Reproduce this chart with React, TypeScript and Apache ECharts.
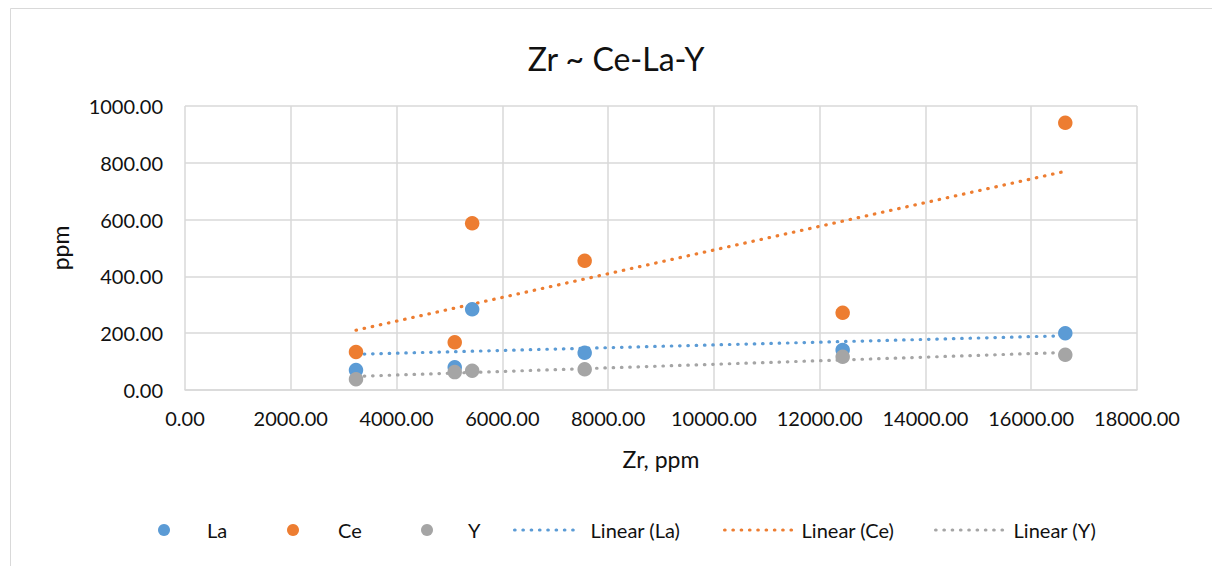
import React, { useEffect, useRef } from "react";
import * as echarts from "echarts";

const zr = [3233, 5100, 5430, 7557, 12435, 16644];
const laVals = [70, 80, 284, 131, 141, 200];
const ceVals = [134, 168, 587, 455, 272, 941];
const yVals = [38, 63, 68, 73, 117, 124];

const seriesNames = ["La", "Ce", "Y"];
const trendNames = ["Linear (La)", "Linear (Ce)", "Linear (Y)"];
const colors = ["#5B9BD5", "#ED7D31", "#A5A5A5"];

function linearFit(xs: number[], ys: number[]) {
  const n = xs.length;
  const mx = xs.reduce((a, b) => a + b, 0) / n;
  const my = ys.reduce((a, b) => a + b, 0) / n;
  let sxy = 0;
  let sxx = 0;
  for (let i = 0; i < n; i++) {
    sxy += (xs[i] - mx) * (ys[i] - my);
    sxx += (xs[i] - mx) * (xs[i] - mx);
  }
  const b = sxy / sxx;
  const a = my - b * mx;
  const x0 = Math.min(...xs);
  const x1 = Math.max(...xs);
  return [
    [x0, a + b * x0],
    [x1, a + b * x1],
  ];
}

const FONT = "Lato";
const TEXT = "#111111";
const GRID = "#d9d9d9";
const DOT: number[] = [0.5, 7.8];

export default function App() {
  const ref = useRef<HTMLDivElement>(null);
  useEffect(() => {
    if (!ref.current) return;
    const chart = echarts.init(ref.current, undefined, { renderer: "svg" });
    const all = [laVals, ceVals, yVals];
    const scatterSeries = all.map((vals, i) => ({
      name: seriesNames[i],
      type: "scatter",
      symbol: "circle",
      symbolSize: 14.5,
      itemStyle: { color: colors[i], opacity: 1 },
      data: zr.map((x, j) => [x, vals[j]]),
      z: 3,
    }));
    const trendSeries = all.map((vals, i) => ({
      name: trendNames[i],
      type: "line",
      symbol: "none",
      showSymbol: false,
      silent: true,
      lineStyle: { color: colors[i], width: 3.2, type: DOT, cap: "round" },
      itemStyle: { color: colors[i] },
      data: linearFit(zr, vals),
      z: 2,
    }));

    const legendDefs = [
      { name: "La", left: 158, w: 12, pad: 32, line: false },
      { name: "Ce", left: 287, w: 12, pad: 34, line: false },
      { name: "Y", left: 421, w: 12, pad: 30, line: false },
      { name: "Linear (La)", left: 513, w: 62, pad: 9, line: true },
      { name: "Linear (Ce)", left: 723, w: 68, pad: 4, line: true },
      { name: "Linear (Y)", left: 934, w: 71, pad: 2, line: true },
    ];
    const legends = legendDefs.map((d) => {
      const l: any = {
        data: [d.name],
        left: d.left,
        top: 520,
        itemWidth: d.w,
        itemHeight: 12,
        padding: 0,
        selectedMode: false,
        textStyle: {
          fontFamily: FONT,
          fontSize: 20,
          color: TEXT,
          padding: [0, 0, 0, d.pad],
        },
      };
      if (d.line) {
        l.lineStyle = { width: 3.2, type: DOT, cap: "round" };
        l.itemStyle = { opacity: 0 };
      } else {
        l.itemStyle = { opacity: 1 };
      }
      return l;
    });

    chart.setOption({
      animation: false,
      backgroundColor: "#ffffff",
      title: {
        text: "Zr ~ Ce-La-Y",
        left: 611,
        textAlign: "center",
        top: 37,
        textStyle: {
          fontFamily: FONT,
          fontSize: 32,
          fontWeight: "normal",
          color: TEXT,
        },
      },
      grid: { left: 185, right: 75, top: 106, bottom: 176 },
      legend: legends,
      graphic: [
        {
          type: "rect",
          shape: { x: 10.5, y: 8.5, width: 1400, height: 800 },
          style: { fill: "none", stroke: GRID, lineWidth: 1 },
          silent: true,
        },
      ],
      xAxis: {
        type: "value",
        min: 0,
        max: 18000,
        interval: 2000,
        name: "Zr, ppm",
        nameLocation: "middle",
        nameGap: 57,
        nameTextStyle: { fontFamily: FONT, fontSize: 23, color: TEXT },
        axisLine: { show: true, lineStyle: { color: GRID, width: 1.5 } },
        axisTick: { show: false },
        axisLabel: {
          fontFamily: FONT,
          fontSize: 20,
          color: TEXT,
          margin: 18,
          formatter: (v: number) => v.toFixed(2),
        },
        splitLine: { show: true, lineStyle: { color: GRID, width: 1.5 } },
      },
      yAxis: {
        type: "value",
        min: 0,
        max: 1000,
        interval: 200,
        name: "ppm",
        nameLocation: "middle",
        nameGap: 114,
        nameRotate: 90,
        nameTextStyle: { fontFamily: FONT, fontSize: 23, color: TEXT },
        axisLine: { show: false },
        axisTick: { show: false },
        axisLabel: {
          fontFamily: FONT,
          fontSize: 20,
          color: TEXT,
          margin: 22,
          formatter: (v: number) => v.toFixed(2),
        },
        splitLine: { show: true, lineStyle: { color: GRID, width: 1.5 } },
      },
      series: [...scatterSeries, ...trendSeries],
    });
    return () => chart.dispose();
  }, []);
  return (
    <div
      ref={ref}
      style={{ position: "fixed", left: 0, top: 0, width: 1212, height: 566 }}
    />
  );
}
